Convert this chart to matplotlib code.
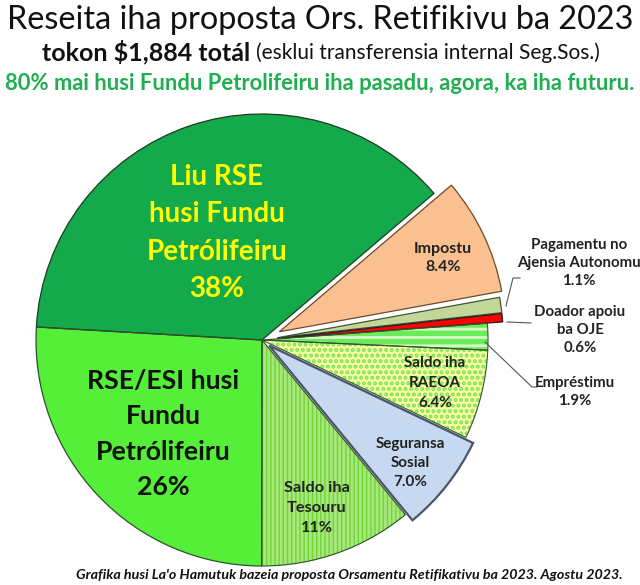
import matplotlib
matplotlib.use("Agg")
import matplotlib.pyplot as plt

plt.rcParams['font.family'] = ['Lato', 'DejaVu Sans']

labels = ["Liu RSE\nhusi Fundu\nPetrólifeiru\n38%", "Impostu\n8.4%",
          "Pagamentu no\nAjensia Autonomu\n1.1%", "Doador apoiu\nba OJE\n0.6%",
          "Empréstimu\n1.9%", "Saldo iha\nRAEOA\n6.4%", "Seguransa\nSosial\n7.0%",
          "Saldo iha\nTesouru\n11%", "RSE/ESI husi\nFundu\nPetrólifeiru\n26%"]
values = [38, 8.4, 1.1, 0.6, 1.9, 6.4, 7.0, 11, 26]
explode_frac = [0, 0.085, 0.068, 0.068, 0, 0, 0.04, 0, 0]
face = ['#14A94B', '#FAC090', '#C4D79B', '#FF0000', '#6CEB5A', '#FFFF99',
        '#C6D9F1', '#74D23C', '#55EE38']
hatch = [None, None, None, None, '--', '...', None, '||||', None]
hatch_col = [None, None, None, None, '#D8F8C8', '#70E36A', None, '#A6E87A', None]
edge = ['#1E3B1E', '#6B4A2A', '#445533', '#222222', '#335533', '#335533',
        '#4A5568', '#2F4F2F', '#2F4F2F']
edge_lw = [0.9, 0.9, 0.9, 0.9, 0.8, 0.8, 1.6, 0.8, 0.9]

W, H = 640, 585
fig = plt.figure(figsize=(6.4, 5.85), dpi=100)
ax = fig.add_axes([0, 0, 1, 1])

cx, cy, R = 262, H - 340, 226
start = 176.7
explode = [e * R for e in explode_frac]
kw = dict(explode=explode, startangle=start, counterclock=False,
          center=(cx, cy), radius=R, frame=True)

# fills
w1, _ = ax.pie(values, colors=face, wedgeprops=dict(linewidth=0), **kw)
# hatch layer
plt.rcParams['hatch.linewidth'] = 2.0
w2, _ = ax.pie(values, wedgeprops=dict(linewidth=0, fill=False), **kw)
for w, h, hc in zip(w2, hatch, hatch_col):
    if h:
        w.set_hatch(h)
        w.set_edgecolor(hc)
    else:
        w.set_visible(False)
# outlines
w3, _ = ax.pie(values, wedgeprops=dict(fill=False), **kw)
for w, ec, lw in zip(w3, edge, edge_lw):
    w.set_edgecolor(ec)
    w.set_linewidth(lw)

ax.set_xlim(0, W)
ax.set_ylim(0, H)
ax.set_aspect('equal')
ax.axis('off')

def T(x, y, s, **k):
    ax.text(x, H - y, s, ha='center', va='center', **k)

# wedge labels
T(217, 233, labels[0], fontsize=20, fontweight='bold', color='#FFFF00', linespacing=1.55)
T(163, 434, labels[8], fontsize=19.2, fontweight='bold', color='#111111', linespacing=1.57)
T(443, 258, labels[1], fontsize=11.5, fontweight='bold', color='#222222', linespacing=1.37)
T(579, 263, labels[2], fontsize=10.8, fontweight='bold', color='#222222', linespacing=1.35)
T(580, 330, labels[3], fontsize=10.8, fontweight='bold', color='#222222', linespacing=1.35)
T(575, 392, labels[4], fontsize=10.8, fontweight='bold', color='#222222', linespacing=1.4)
T(435, 383, labels[5], fontsize=11, fontweight='bold', color='#222222', linespacing=1.52)
T(410, 463, labels[6], fontsize=11, fontweight='bold', color='#222222', linespacing=1.49)
T(317, 508, labels[7], fontsize=11.8, fontweight='bold', color='#222222', linespacing=1.55)

# leader lines
lc = '#555555'
ax.plot([506, 513, 520], [H - 306, H - 278, H - 278], color=lc, lw=0.8)
ax.plot([507, 531], [H - 322, H - 323], color=lc, lw=0.8)
ax.plot([485, 532, 537], [H - 342, H - 387, H - 387], color=lc, lw=0.8)

# titles
T(320, 20, "Reseita iha proposta Ors. Retifikivu ba 2023", fontsize=23.3, color='#111111')
ax.text(250, H - 52, "tokon $1,884 totál", ha='right', va='center', fontsize=18,
        fontweight='bold', color='#111111')
ax.text(256, H - 53, "(esklui transferensia internal Seg.Sos.)", ha='left', va='center',
        fontsize=15, color='#111111')
T(320, 84, "80% mai husi Fundu Petrolifeiru iha pasadu, agora, ka iha futuru.",
  fontsize=15.8, fontweight='bold', color='#1FAF50')
T(349, 575, "Grafika husi La'o Hamutuk bazeia proposta Orsamentu Retifikativu ba 2023. Agostu 2023.",
  fontsize=10.3, fontweight='bold', fontstyle='italic', color='#111111')

fig.savefig('out.png', dpi=100, facecolor='white')
